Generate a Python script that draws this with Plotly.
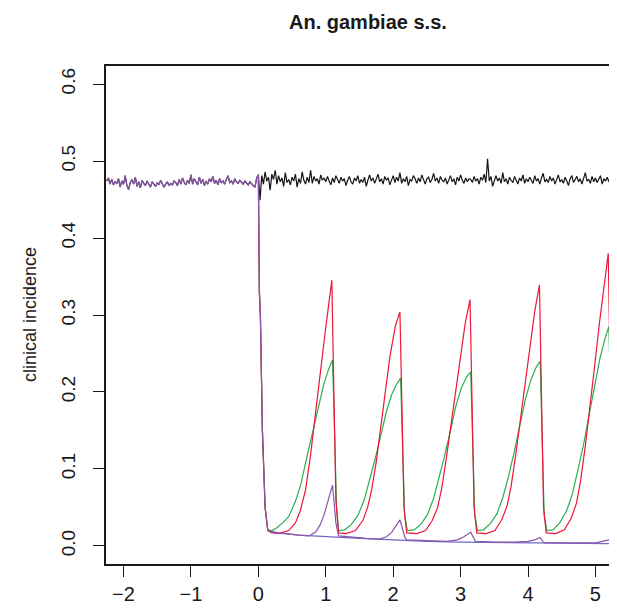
import plotly.graph_objects as go

# ---------------- data ----------------
tick_vals_x = [-2, -1, 0, 1, 2, 3, 4, 5]
tick_vals_y = [0.0, 0.1, 0.2, 0.3, 0.4, 0.5, 0.6]

step = 0.025
pre_start = -2.25
pre_y = [0.474,0.478,0.470,0.476,0.469,0.473,0.471,0.477,0.466,0.474,
         0.470,0.481,0.468,0.463,0.472,0.476,0.470,0.479,0.467,0.473,
         0.465,0.475,0.471,0.468,0.474,0.469,0.466,0.473,0.470,0.467,
         0.472,0.469,0.475,0.471,0.466,0.470,0.473,0.468,0.471,0.469,
         0.474,0.472,0.468,0.476,0.470,0.478,0.472,0.469,0.475,0.471,
         0.482,0.470,0.477,0.473,0.469,0.479,0.471,0.476,0.468,0.474,
         0.470,0.477,0.473,0.480,0.471,0.475,0.469,0.477,0.472,0.474,
         0.470,0.476,0.481,0.472,0.474,0.470,0.477,0.473,0.471,0.475,
         0.472,0.470,0.474,0.471,0.469,0.473,0.470,0.468,0.466,0.478,
         0.482]

post_start = 0.025
black_post_y = [0.449,0.481,0.470,0.486,0.474,0.479,0.462,0.483,0.476,0.488,
                0.470,0.481,0.473,0.478,0.467,0.485,0.472,0.476,0.469,0.479,
                0.474,0.483,0.466,0.477,0.471,0.486,0.475,0.470,0.479,0.472,
                0.488,0.471,0.480,0.474,0.477,0.470,0.482,0.475,0.478,0.473,
                0.480,0.474,0.469,0.478,0.472,0.481,0.476,0.471,0.479,0.474,
                0.477,0.468,0.475,0.480,0.473,0.470,0.478,0.474,0.481,0.471,
                0.476,0.472,0.479,0.467,0.475,0.482,0.474,0.478,0.471,0.476,
                0.483,0.473,0.477,0.470,0.480,0.475,0.478,0.469,0.476,0.481,
                0.472,0.479,0.474,0.485,0.471,0.477,0.473,0.480,0.468,0.476,
                0.474,0.481,0.477,0.471,0.478,0.473,0.482,0.475,0.470,0.477,
                0.479,0.472,0.476,0.484,0.474,0.478,0.471,0.480,0.475,0.473,
                0.478,0.470,0.476,0.481,0.473,0.477,0.469,0.479,0.474,0.482,
                0.475,0.471,0.478,0.473,0.477,0.476,0.472,0.480,0.474,0.477,
                0.470,0.479,0.475,0.483,0.472,0.503,0.474,0.480,0.467,0.476,
                0.481,0.474,0.478,0.471,0.485,0.473,0.477,0.470,0.479,0.475,
                0.472,0.480,0.476,0.470,0.478,0.474,0.482,0.471,0.477,0.473,
                0.479,0.475,0.471,0.481,0.474,0.477,0.470,0.478,0.484,0.473,
                0.476,0.472,0.480,0.474,0.478,0.470,0.477,0.482,0.473,0.476,
                0.471,0.479,0.474,0.468,0.477,0.481,0.472,0.476,0.480,0.473,
                0.477,0.470,0.478,0.485,0.474,0.476,0.471,0.480,0.473,0.478,
                0.472,0.476,0.481,0.470,0.477,0.474,0.479,0.473,0.476,0.471,
                0.478,0.474,0.480]

red_t = [0.0, 0.015, 0.03, 0.06, 0.10, 0.14, 0.20, 0.30, 0.45, 0.55, 0.62, 0.70, 0.77, 0.84, 0.92, 0.99, 1.05, 1.09, 1.12, 1.15, 1.19,
         1.30, 1.44, 1.55, 1.62, 1.68, 1.75, 1.82, 1.88, 1.95, 2.03, 2.10, 2.13, 2.16, 2.20,
         2.35, 2.48, 2.58, 2.66, 2.72, 2.79, 2.86, 2.93, 3.00, 3.07, 3.14, 3.17, 3.20, 3.24,
         3.38, 3.51, 3.61, 3.69, 3.75, 3.82, 3.89, 3.96, 4.03, 4.10, 4.17, 4.20, 4.23, 4.27,
         4.41, 4.54, 4.64, 4.72, 4.78, 4.85, 4.92, 4.99, 5.06, 5.13, 5.19, 5.22, 5.25, 5.29, 5.35]
red_y = [0.482, 0.33, 0.30, 0.15, 0.05, 0.02, 0.018, 0.016, 0.02, 0.03, 0.045, 0.073, 0.115, 0.168, 0.225, 0.277, 0.318, 0.345, 0.20, 0.06, 0.017,
         0.016, 0.02, 0.033, 0.05, 0.073, 0.11, 0.155, 0.199, 0.245, 0.285, 0.304, 0.18, 0.05, 0.017,
         0.016, 0.02, 0.033, 0.05, 0.075, 0.115, 0.16, 0.205, 0.25, 0.29, 0.32, 0.19, 0.05, 0.017,
         0.016, 0.02, 0.034, 0.052, 0.078, 0.12, 0.168, 0.215, 0.262, 0.305, 0.339, 0.20, 0.05, 0.017,
         0.016, 0.021, 0.036, 0.056, 0.085, 0.13, 0.18, 0.235, 0.29, 0.34, 0.38, 0.22, 0.06, 0.018, 0.017]

green_t = [0.0, 0.015, 0.03, 0.06, 0.10, 0.14, 0.20, 0.28, 0.36, 0.45, 0.55, 0.63, 0.70, 0.80, 0.89, 0.97, 1.04, 1.10, 1.13, 1.16, 1.19,
           1.28, 1.38, 1.48, 1.57, 1.65, 1.73, 1.82, 1.90, 1.98, 2.05, 2.11, 2.14, 2.17, 2.21,
           2.31, 2.41, 2.51, 2.60, 2.68, 2.76, 2.85, 2.93, 3.01, 3.09, 3.15, 3.18, 3.21, 3.25,
           3.34, 3.44, 3.54, 3.63, 3.71, 3.79, 3.88, 3.96, 4.04, 4.12, 4.18, 4.21, 4.24, 4.28,
           4.37, 4.47, 4.57, 4.66, 4.74, 4.82, 4.91, 4.99, 5.07, 5.15, 5.20, 5.23, 5.26, 5.30, 5.35]
green_y = [0.482, 0.33, 0.30, 0.15, 0.05, 0.021, 0.02, 0.024, 0.03, 0.038, 0.058, 0.08, 0.108, 0.145, 0.18, 0.21, 0.229, 0.242, 0.15, 0.05, 0.02,
           0.021, 0.028, 0.04, 0.06, 0.085, 0.112, 0.145, 0.175, 0.197, 0.21, 0.218, 0.13, 0.04, 0.02,
           0.021, 0.028, 0.041, 0.062, 0.088, 0.116, 0.15, 0.182, 0.205, 0.22, 0.226, 0.135, 0.04, 0.02,
           0.021, 0.029, 0.042, 0.064, 0.09, 0.12, 0.156, 0.19, 0.215, 0.232, 0.24, 0.14, 0.04, 0.02,
           0.021, 0.03, 0.045, 0.068, 0.097, 0.13, 0.172, 0.21, 0.245, 0.272, 0.285, 0.17, 0.05, 0.02, 0.02]

purple_t = [0.0, 0.015, 0.03, 0.06, 0.10, 0.14, 0.20, 0.40, 0.60, 0.75, 0.85, 0.92, 0.98, 1.04, 1.08, 1.10, 1.12, 1.15, 1.19,
            1.40, 1.60, 1.80, 1.90, 1.98, 2.05, 2.10, 2.13, 2.17, 2.20,
            2.50, 2.80, 2.95, 3.05, 3.15, 3.18, 3.22,
            3.50, 3.80, 4.00, 4.10, 4.18, 4.22, 4.25,
            4.60, 5.00, 5.10, 5.20, 5.24, 5.35]
purple_y = [0.482, 0.33, 0.30, 0.15, 0.05, 0.02, 0.017, 0.016, 0.014, 0.013, 0.018, 0.028, 0.042, 0.06, 0.072, 0.079, 0.06, 0.03, 0.013,
            0.011, 0.010, 0.009, 0.012, 0.018, 0.027, 0.034, 0.025, 0.012, 0.008,
            0.007, 0.006, 0.008, 0.012, 0.018, 0.012, 0.006,
            0.005, 0.005, 0.006, 0.008, 0.011, 0.006, 0.004,
            0.004, 0.004, 0.006, 0.008, 0.005, 0.004]

blue_t = [0.14, 0.30, 0.60, 1.00, 1.50, 2.00, 2.50, 3.00, 4.00, 5.35]
blue_y = [0.020, 0.017, 0.014, 0.012, 0.010, 0.008, 0.006, 0.005, 0.004, 0.003]

# ---------------- build ----------------
pre_x = [pre_start + i * step for i in range(len(pre_y))]
post_x = [post_start + i * step for i in range(len(black_post_y))]

BLACK = "#141414"
PURPLE = "#8A55AA"
RED = "#EE1538"
GREEN = "#2EAE4E"
BLUE = "#6E6ACC"

fig = go.Figure()
lw = 1.2
fig.add_trace(go.Scatter(x=pre_x + post_x, y=pre_y + black_post_y, mode="lines",
                         line=dict(color=BLACK, width=lw), showlegend=False))
fig.add_trace(go.Scatter(x=blue_t, y=blue_y, mode="lines",
                         line=dict(color=BLUE, width=lw), showlegend=False))
fig.add_trace(go.Scatter(x=green_t, y=green_y, mode="lines",
                         line=dict(color=GREEN, width=lw), showlegend=False))
fig.add_trace(go.Scatter(x=red_t, y=red_y, mode="lines",
                         line=dict(color=RED, width=lw), showlegend=False))
fig.add_trace(go.Scatter(x=pre_x + purple_t, y=pre_y + purple_y, mode="lines",
                         line=dict(color=PURPLE, width=lw), showlegend=False))

FONT = "Liberation Sans, Arial, sans-serif"
OFF = 8  # page body margin
W, H = 617 - OFF, 611 - OFF
L, T = 106 - OFF, 66 - OFF
B = 611 - 564
plot_w = W - L
plot_h = H - T - B

fig.update_layout(
    width=W, height=H,
    margin=dict(l=L, r=0, t=T, b=B, autoexpand=False),
    plot_bgcolor="white", paper_bgcolor="white",
    font=dict(family=FONT, color="#1a1a1a"),
    xaxis=dict(range=[-2.26, 5.32], tickvals=tick_vals_x,
               ticktext=[("\u2212" + str(-v)) if v < 0 else str(v) for v in tick_vals_x],
               showgrid=False, zeroline=False, showline=True, linecolor="#1a1a1a",
               linewidth=1.6, mirror=True, ticks="outside", ticklen=11, tickwidth=1.4,
               tickcolor="#1a1a1a", tickfont=dict(size=20, family=FONT)),
    yaxis=dict(range=[-0.0234, 0.6234], tickvals=tick_vals_y,
               ticktext=["0.0", "0.1", "0.2", "0.3", "0.4", "0.5", "0.6"],
               showgrid=False, zeroline=False, showline=True, linecolor="#1a1a1a",
               linewidth=1.6, ticks="outside", ticklen=11, tickwidth=1.4,
               tickcolor="#1a1a1a", tickangle=-90, ticklabelstandoff=11,
               tickfont=dict(size=19, family=FONT)),
    annotations=[
        dict(text="<b>An. gambiae s.s.</b>", xref="paper", yref="paper",
             x=(368 - OFF - L) / plot_w, y=1 + (T - (22 - OFF)) / plot_h,
             xanchor="center", yanchor="middle", showarrow=False,
             font=dict(size=20, family=FONT, color="#1a1a1a")),
        dict(text="clinical incidence", xref="paper", yref="paper",
             x=(30 - OFF - L) / plot_w, y=0.5, textangle=-90,
             xanchor="center", yanchor="middle", showarrow=False,
             font=dict(size=18, family=FONT, color="#1a1a1a")),
    ],
)

fig.write_html("out.html")
